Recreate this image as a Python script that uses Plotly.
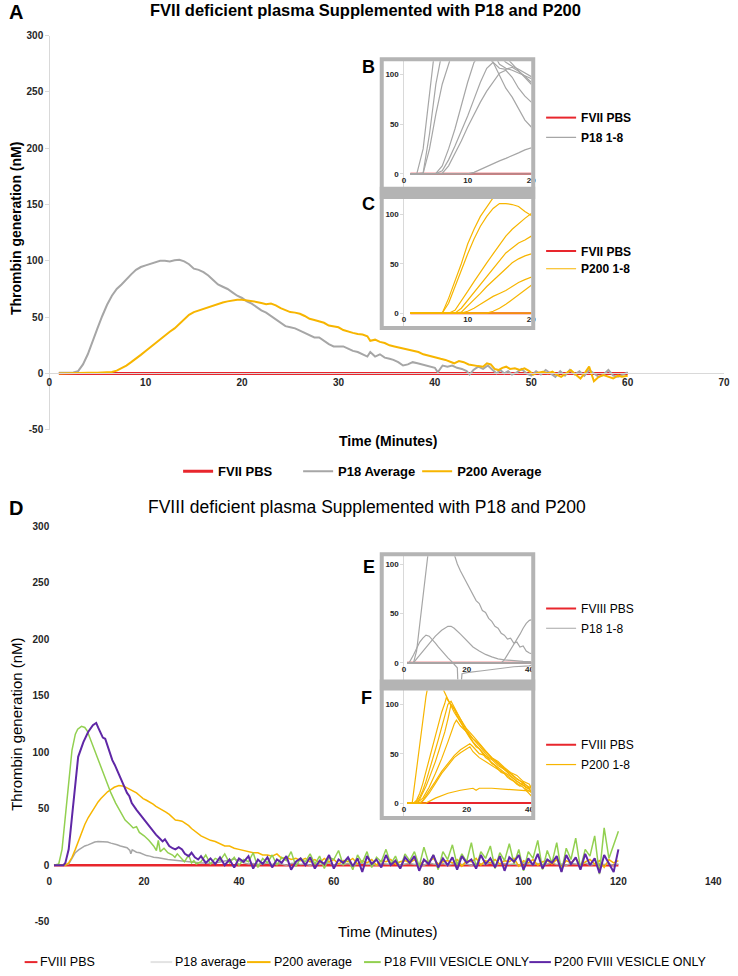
import plotly.graph_objects as go

W, H = 738, 976
FONT = "Liberation Sans, Arial, sans-serif"
RED = "#e8262d"
GRAY = "#a6a6a6"
LIGHTGRAY = "#e3e3e3"
ORANGE = "#f7b500"
GREEN = "#92d050"
PURPLE = "#5f27a6"
FRAME = "#b4b4b4"
AXIS = "#d9d9d9"


def px(x):
    return x / W


def py(y):
    return 1 - y / H

# ---------------- DATA: panel A (FVII deficient plasma) ----------------
t_pbs_a = [1, 60]
v_pbs_a = [0, 0]

t_p18_a = [1, 2, 2.5, 3, 3.5, 4, 4.5, 5, 5.5, 6,
           6.5, 7, 7.5, 8, 8.5, 9, 9.5, 10, 10.5, 11,
           11.5, 12, 12.5, 13, 13.5, 14, 14.5, 15, 15.5, 16,
           16.5, 17, 17.5, 18, 18.5, 19, 19.5, 20, 20.5, 21,
           21.5, 22, 22.5, 23, 23.5, 24, 24.5, 25, 25.5, 26,
           26.5, 27, 27.5, 28, 28.5, 29, 29.5, 30, 30.5, 31,
           31.5, 32, 32.5, 33, 33.3, 33.8, 34.3, 34.8, 35.3, 35.7,
           36.2, 36.7, 37.2, 37.7, 38.2, 38.7, 39.2, 39.6, 40, 40.3,
           40.8, 41.3, 41.8, 42.3, 42.8, 43.3, 43.6, 44, 44.5, 45,
           45.5, 46, 46.4, 46.8, 47.2, 47.6, 48, 48.5, 49, 49.5,
           50, 50.5, 51, 51.5, 52, 52.5, 53, 53.5, 54, 54.5,
           55, 55.5, 56, 56.5, 57, 57.5, 58, 58.5, 59, 59.5,
           60]
v_p18_a = [0.5, 0.5, 0.8, 2, 8, 17, 29, 40, 51, 61,
           69, 75, 79, 84, 88, 92, 94.5, 96, 97.5, 99,
           100, 100, 99.5, 100.5, 101, 99.5, 97, 93, 92, 90,
           87, 83, 79, 77, 75, 72, 69, 67, 64, 62,
           59, 56, 54, 51, 48, 45, 42, 41, 40, 38,
           36, 34, 32, 32, 29, 26, 24, 24, 24, 22,
           20, 19, 17, 15, 19, 15, 17, 14, 13, 12,
           10, 7, 8, 10, 9, 8, 7, 6, 5, 1,
           7, 6, 7, 5, 4, 2, -1, 3, 6, 4,
           7, 3, 0, 3, 0, 2, -1, 1, 4, 0,
           -2, 2, -1, 3, 0, -3, 2, -2, 3, -1,
           2, -2, 3, 0, -3, -1, 3, -2, -3, -1,
           1]

t_p200_a = [1, 2, 3, 4, 5, 6, 6.5, 7, 7.5, 8,
            8.5, 9, 9.5, 10, 10.5, 11, 11.5, 12, 12.5, 13,
            13.5, 14, 14.5, 15, 15.5, 16, 16.5, 17, 17.5, 18,
            18.5, 19, 19.5, 20, 20.5, 21, 21.5, 22, 22.5, 23,
            23.5, 24, 24.5, 25, 25.5, 26, 26.5, 27, 27.5, 28,
            28.5, 29, 29.5, 30, 30.5, 31, 31.5, 32, 32.5, 33,
            33.3, 33.8, 34.3, 34.8, 35.3, 35.8, 36.3, 36.8, 37.3, 37.8,
            38.3, 38.8, 39.2, 39.7, 40.1, 40.6, 41.1, 41.6, 42, 42.5,
            43, 43.5, 44, 44.5, 45, 45.4, 45.8, 46.2, 46.6, 47,
            47.4, 47.8, 48.3, 48.8, 49.3, 49.8, 50.2, 50.6, 51.2, 51.7,
            52.2, 52.6, 53.1, 53.6, 54.1, 54.6, 55.1, 55.6, 56, 56.5,
            57, 57.5, 58, 58.5, 59, 59.4, 60]
v_p200_a = [0, 0.3, 0.5, 0.5, 0.5, 0.6, 1.2, 2.5, 4.5, 7,
            10, 13, 16.5, 20, 23.5, 27, 30.5, 34, 37, 40,
            44, 48, 52, 54.5, 56, 57.5, 59, 60.5, 62, 63,
            64, 65, 65.5, 65.5, 65, 64, 63.5, 62.5, 61.5, 62,
            60.5, 58, 56, 54.5, 54, 53, 51, 48.5, 47.5, 46.5,
            45, 42.5, 41.5, 41, 38.5, 37, 36, 35, 34.5, 33,
            29, 30, 28, 27, 25, 24, 23, 22.5, 21, 20,
            19, 17, 16, 15, 14, 13, 12, 10.5, 9, 11,
            10, 8, 7, 6.5, 6, 9, 8, 4, 3, 5,
            6, 4, 4.5, 3, 4.5, 2, -1, 0.5, 1.5, 0,
            1.5, -1, -3, 0, 3, -1, -4.5, 1, 6, -7,
            -3, -1.5, -3, -4.5, -2, -3, -2]

# insets B (P18 1-8) and C (P200 1-8), minutes 1..21
t_bc = [1, 2, 3, 4, 5, 6, 7, 8, 9, 10, 11, 12, 13, 14, 15, 16, 17, 18, 19, 20, 21]
t_pbs_bc = [1, 21]
v_pbs_bc = [0, 0]
p18_runs_b = [
    [0, 0, 25, 80, 140, 190, 220, 230, 220, 200, 180, 160, 140, 122, 110, 106, 104, 101, 98, 95, 93],
    [0, 0, 1, 40, 90, 135, 170, 190, 195, 190, 175, 160, 145, 132, 124, 117, 110, 104, 97, 90, 86],
    [0, 0, 0.5, 25, 60, 90, 112, 135, 150, 158, 155, 148, 138, 128, 118, 112, 108, 105, 101, 97, 94],
    [0, 0, 0, 0, 0.5, 8, 25, 45, 70, 92, 112, 120, 118, 112, 106, 105, 107, 103, 98, 92, 88],
    [0, 0, 0, 0, 0.3, 3, 14, 28, 43, 58, 75, 92, 106, 112, 99, 86, 77, 66, 54, 47, 42],
    [0, 0, 0, 0, 0, 0.5, 8, 20, 33, 47, 60, 72, 83, 92, 101, 104, 97, 86, 78, 72, 68],
    [0, 0, 0, 0, 0, 0, 0, 0, 0, 0, 1.5, 4.5, 7.5, 10, 13, 15.5, 18, 21, 24, 26, 28],
    [0, 0, 0, 0, 0, 0, 0, 0, 0, 0, 0, 0, 0, 0, 0, 0, 0, 0, 0, 0, 0],
]
p200_runs_c = [
    [0, 0, 0, 0, 0, 0, 15, 32, 50, 70, 85, 98, 108, 118, 128, 137, 145, 152, 158, 163, 167],
    [0, 0, 0, 0, 0, 0, 10, 27, 45, 60, 75, 88, 98, 106, 111, 111, 110, 108, 103, 99, 97],
    [0, 0, 0, 0, 0, 0, 0, 3, 12, 22, 32, 42, 51, 60, 69, 78, 85, 91, 96, 101, 103],
    [0, 0, 0, 0, 0, 0, 0, 0, 5, 13, 21, 30, 38, 46, 54, 61, 66, 71, 74, 78, 80],
    [0, 0, 0, 0, 0, 0, 0, 0, 1, 7, 13, 20, 27, 33, 40, 46, 51, 55, 58, 60, 62],
    [0, 0, 0, 0, 0, 0, 0, 0, 0, 2, 5, 9, 13, 17, 20, 23, 27, 31, 34, 37, 39],
    [0, 0, 0, 0, 0, 0, 0, 0, 0, 0, 0, 0, 0, 2, 5, 9, 14, 19, 24, 29, 33],
    [0, 0, 0, 0, 0, 0, 0, 0, 0, 0, 0, 0, 0, 0, 0, 0, 0, 0, 0, 0, 0],
]

# ---------------- DATA: panel D (FVIII deficient plasma) ----------------
t_pbs_d = [1, 120]
v_pbs_d = [0, 0]

t_tail_d = [32, 33, 34, 35, 36, 37, 38, 39, 40, 41,
            42, 43, 44, 45, 46, 47, 48, 49, 50, 51,
            52, 53, 54, 55, 56, 57, 58, 59, 60, 61,
            62, 63, 64, 65, 66, 67, 68, 69, 70, 71,
            72, 73, 74, 75, 76, 77, 78, 79, 80, 81,
            82, 83, 84, 85, 86, 87, 88, 89, 90, 91,
            92, 93, 94, 95, 96, 97, 98, 99, 100, 101,
            102, 103, 104, 105, 106, 107, 108, 109, 110, 111,
            112, 113, 114, 115, 116, 117, 118, 119, 120]

t_p18_d_head = [1, 3, 4.1, 4.8, 5.5, 6.2, 6.8, 7.5, 8.2, 8.9,
                9.6, 10.3, 10.9, 11.6, 12.3, 13, 13.7, 14.3, 15, 15.7,
                16.4, 17, 17.2, 17.5, 18, 18.4, 19.1, 19.8, 20.5, 21.2,
                22, 23, 24, 25, 26, 27, 28, 29, 30, 31]
v_p18_d_head = [0, 0, 1, 6, 11, 13.5, 15.5, 17, 18, 19.5,
                20.5, 21, 21, 20.5, 20.5, 19.5, 19, 18, 17, 16.5,
                15.5, 13, 10, 13.5, 12.5, 11.5, 11, 9.5, 8.5, 8,
                7, 6.5, 5.5, 5, 4.5, 4, 3.5, 3, 2.5, 2.3]
v_p18_d_tail = [2, 2, 1.5, 2, 3, 4, 5, 5.5, 4, 2,
                1, 1.5, 0.5, 1, 2, 0.5, 1.5, 1, 0, 1.5,
                2, 0.5, 1, 0, 1.5, 0.5, 1, 2, 0, 1,
                0.5, 1.5, 0, 1, 2, 0.5, 1, 0, 1.5, 1,
                0.5, 2, 0, 1, 1.5, 0.5, 1, 0, 2, 1,
                0.5, 1.5, 0, 1, 2, 0.5, 1, 0, 1.5, 1,
                0.5, 2, 0, 1, 1.5, 0.5, 1, 0, 2, 1,
                0.5, 1.5, 0, 1, 2, 0.5, 1, 0, 1.5, 1,
                0.5, 2, 0, 1, 1.5, 0.5, 1, 0, 1]

t_p200_d_head = [1, 3.4, 4.1, 4.8, 5.5, 6.2, 6.8, 7.5, 8.2, 8.9,
                 9.6, 10.3, 10.9, 11.6, 12.3, 13, 13.7, 14.7, 15.7, 16.4,
                 17.1, 17.8, 18.4, 19.1, 19.8, 20.5, 21.2, 21.9, 22.5, 23.2,
                 23.9, 24.6, 25.3, 26, 26.6, 27.3, 28, 28.7, 29.4, 30,
                 30.7, 31.4]
v_p200_d_head = [0, 0, 2, 7, 14, 22, 29, 36, 42, 47,
                 52, 56, 59, 62, 65, 67, 69, 70.5, 70, 68.5,
                 67, 65.5, 64, 61.5, 59, 57.5, 56, 54, 52, 50.5,
                 49, 47, 45, 42.5, 40, 39.5, 39, 37, 35, 32.5,
                 30, 28]
v_p200_d_tail = [26, 24, 22, 21, 19, 17, 17, 15, 14, 13,
                 12, 11, 11, 9, 9, 8, 10, 6, 7, 5,
                 6, 4, 6, 3, 5, 2, 6, 3, 5, 1,
                 4, 3, 6, 1, 4, 2, 5, 0, 4, 3,
                 5, 1, 3, 4, 2, 5, 0, 4, 3, 6,
                 1, 3, 4, 2, 5, -1, 4, 3, 6, 0,
                 4, 2, 5, 1, 4, 3, 6, -1, 4, 2,
                 5, 0, 3, 4, 1, 5, -2, 4, 2, 6,
                 0, 3, 5, 1, 4, -2, 5, 2, 4]

t_ves18_head = [1, 2, 2.7, 3.4, 4.1, 4.8, 5.5, 6, 6.8, 7.5,
                8, 9, 10, 11, 12, 13, 14, 15, 16, 17,
                17.7, 18.4, 19, 20, 21, 22, 22.6, 23, 23.4, 24.2,
                25, 26, 26.5, 27, 28, 28.5, 29.4, 30, 30.5, 31]
v_ves18_head = [0, 1, 14, 43, 78, 102, 116, 120.5, 123, 122,
                119, 108, 97, 87, 76, 64, 55, 47, 40, 36,
                33, 34, 29, 26, 22, 17, 13, 22, 12, 15,
                11, 9, 7, 10, 5, 3, 9, 2, 4, 1]
v_ves18_tail = [3, 9, 1, 6, 4, 10, 2, 7, 0, 5,
                3, 11, -2, 6, 2, 9, 0, 7, 4, 12,
                -1, 6, 3, 10, 1, 8, -3, 7, 5, 13,
                0, 6, -4, 9, 2, 12, -2, 7, 3, 14,
                1, 8, -3, 10, 4, 12, -1, 16, 2, 9,
                -4, 12, 5, 18, 0, 10, 3, 20, -2, 12,
                6, 17, -3, 11, 4, 19, 1, 14, -5, 12,
                6, 22, -4, 13, 2, 20, -6, 15, 5, 24,
                -3, 14, 8, 26, -8, 33, 6, 18, 30]

t_ves200_head = [1, 3, 3.4, 4.1, 4.8, 5.5, 6.1, 7.2, 8.2, 9.2,
                 9.9, 10.3, 10.6, 11.3, 11.8, 12.3, 13.3, 13.8, 14.3, 15.4,
                 16.4, 16.9, 17.4, 18.4, 19.5, 20.5, 21.5, 22.5, 23.2, 23.9,
                 24.4, 25.3, 26, 26.6, 27.3, 28, 28.6, 29.4, 30, 30.7,
                 31.4]
v_ves200_head = [0, 0, 2, 14, 43, 75, 96, 109, 118, 124,
                 126, 122, 119, 113, 112, 105, 93, 89, 84, 73,
                 64, 61, 55, 49, 43, 37, 32, 27, 24, 21,
                 23, 17, 15, 14, 16, 14, 10, 8, 11, 7,
                 5]
v_ves200_tail = [8, 2, 6, 1, 7, 0, 5, -2, 6, 3,
                 8, -3, 5, 1, 7, -2, 5, 2, 8, -4,
                 3, 6, 0, 7, -3, 4, 1, 9, -3, 5,
                 2, 7, -1, 6, -6, 8, 1, 5, -2, 9,
                 0, 4, -3, 7, 2, 8, -5, 5, 1, 9,
                 -2, 6, 0, 7, -4, 8, 2, 5, -3, 9,
                 1, 6, -2, 8, -5, 7, 3, 9, -4, 6,
                 0, 10, -3, 5, 2, 8, -6, 9, 1, 7,
                 -4, 10, 0, 6, -7, 9, 2, -6, 14]

# insets E (P18 1-8) and F (P200 1-8)
t_pbs_ef = [1, 41]
v_pbs_ef = [0, 0]
p18_runs_e = [
    ([1, 3, 4, 5, 6, 7, 8, 9, 10, 12, 14, 16, 17, 18, 19, 20, 21, 22, 23, 24, 25, 26, 27, 28, 29, 30,
      31, 32, 33, 34, 35, 36, 37, 38, 39, 40, 41],
     [0, 0, 12, 40, 70, 98, 120, 140, 150, 150, 135, 110, 100, 93, 87, 80, 74, 68, 63, 60, 53, 51, 45,
      42, 37, 35, 30, 28, 24, 25, 20, 21, 16, 17, 12, 10, 9]),
    ([1, 1.6, 3, 4, 5, 6, 7, 8, 9, 10, 11, 12, 13, 14, 15, 16, 17, 17.3, 18, 18.5, 20, 25, 30, 35, 40, 41],
     [0, 0, 8, 15, 21, 25, 28, 27, 24, 20, 16, 12, 8, 5, 2, -2, -5, -30, -30, -11, -10, -8, -6, -4, -3, -2]),
    ([1, 3, 4, 6, 8, 10, 12, 14, 15, 16, 18, 20, 22, 24, 26, 28, 30, 32, 35, 38, 41],
     [0, 0, 4, 12, 20, 27, 33, 37, 37, 35, 29, 22, 16, 12, 8.5, 6, 4, 3, 2, 1.5, 1]),
    ([1, 31, 32, 33, 34, 35, 36, 37, 38, 39, 40, 41],
     [0, 0, 3, 8, 13, 18, 24, 29, 35, 40, 43, 44]),
    ([1, 41], [0, 0]),
    ([1, 41], [0, 0]),
    ([1, 41], [0, 0]),
    ([1, 41], [0, 0]),
]
p200_runs_f = [
    ([1, 2.6, 3, 4, 5, 6, 7, 8, 9, 10, 11, 12, 12.8, 14, 15, 16, 17, 18, 20, 22, 24, 26, 28, 30, 32, 34,
      36, 38, 40, 41],
     [0, 0, 10, 35, 60, 85, 108, 125, 132, 133, 128, 120, 113, 105, 98, 92, 87, 82, 72, 62, 55, 48, 41,
      36, 31, 27, 22, 18, 14, 20]),
    ([1, 3, 4, 5, 6, 7, 8, 9, 10, 11, 12, 13, 13.5, 14, 15, 16, 17, 18, 19, 20, 21, 22, 23, 24, 25, 26,
      27, 28, 29, 30, 31, 32, 33, 34, 35, 36, 37, 38, 39, 40, 41],
     [0, 0, 3, 10, 20, 32, 45, 58, 70, 82, 92, 101, 107, 104, 100, 95, 88, 82, 76, 71, 66, 62, 57, 55,
      51, 46, 44, 40, 38, 35, 31, 30, 26, 24, 22, 19, 17, 21, 14, 12, 10]),
    ([1, 3.5, 5, 6, 7, 8, 9, 10, 11, 12, 13, 14, 15, 16, 17, 18, 19, 20, 22, 24, 26, 28, 30, 32, 34, 36,
      38, 40, 41],
     [0, 0, 6, 13, 22, 32, 43, 54, 65, 76, 88, 100, 103, 97, 90, 84, 79, 74, 65, 58, 50, 45, 40, 34, 30,
      25, 20, 16, 18]),
    ([1, 4, 5, 6, 7, 8, 9, 10, 11, 12, 13, 14, 15, 16, 17, 18, 19, 20, 22, 24, 26, 28, 30, 32, 34, 36,
      38, 40, 41],
     [0, 0, 4, 10, 17, 25, 33, 42, 52, 62, 72, 85, 100, 96, 90, 85, 80, 75, 68, 60, 53, 46, 42, 36, 31,
      28, 22, 19, 12]),
    ([1, 4, 6, 8, 10, 12, 14, 15, 16, 16.7, 17.5, 18, 20, 22, 24, 26, 28, 30, 32, 34, 36, 38, 40, 41],
     [0, 0, 5, 16, 30, 45, 62, 72, 80, 84, 80, 78, 72, 65, 60, 52, 46, 40, 35, 30, 24, 21, 15, 8]),
    ([1, 5, 6, 8, 10, 12, 14, 16, 18, 20, 21, 22, 23, 24, 26, 28, 30, 32, 34, 36, 38, 40, 41],
     [0, 0, 3, 12, 22, 32, 40, 48, 54, 58, 60, 57, 54, 50, 48, 44, 38, 34, 28, 22, 18, 14, 10]),
    ([1, 5, 6, 8, 10, 12, 14, 16, 18, 20, 21, 22, 24, 26, 28, 30, 32, 34, 36, 38, 40, 41],
     [0, 0, 2, 10, 20, 30, 38, 46, 51, 55, 57, 52, 46, 42, 38, 34, 30, 25, 20, 16, 10, 6]),
    ([1, 7, 10, 14, 18, 20, 22, 23, 24, 28, 32, 36, 40, 41],
     [0, 0, 5, 10, 13, 14, 15, 13, 15, 15, 14, 13, 12, 12]),
]

y_main_ticks = [-50, 0, 50, 100, 150, 200, 250, 300]
y_main_labels = ["-50", "0", "50", "100", "150", "200", "250", "300"]

# series names / colours of panel D (used by traces and by the key under the panel)
d_names = ["FVIII PBS", "P18 average", "P200 average", "P18 FVIII VESICLE ONLY", "P200 FVIII VESICLE ONLY"]
d_key_colors = [RED, LIGHTGRAY, ORANGE, GREEN, PURPLE]

# ---------------- FIGURE ----------------
fig = go.Figure()


def line(x, y, color, width, xa, ya, name, legend=None, show=False, group=None):
    fig.add_trace(go.Scatter(
        x=x, y=y, mode="lines", line=dict(color=color, width=width),
        xaxis=xa, yaxis=ya, name=name, legend=legend or "legend",
        showlegend=show, legendgroup=group, hoverinfo="skip"))


# panel A
line(t_pbs_a, v_pbs_a, RED, 3, "x", "y", "FVII PBS", "legend", True)
line(t_p18_a, v_p18_a, GRAY, 2, "x", "y", "P18 Average", "legend2", True)
line(t_p200_a, v_p200_a, ORANGE, 2, "x", "y", "P200 Average", "legend3", True)
# inset B
line(t_pbs_bc, v_pbs_bc, RED, 2, "x3", "y3", "FVII PBS", "legend4", True)
for i, run in enumerate(p18_runs_b):
    line(t_bc, run, GRAY, 1.2, "x3", "y3", "P18 1-8", "legend5", i == 0, "b")
# inset C
line(t_pbs_bc, v_pbs_bc, RED, 2, "x4", "y4", "FVII PBS", "legend6", True)
for i, run in enumerate(p200_runs_c):
    line(t_bc, run, ORANGE, 1.2, "x4", "y4", "P200 1-8", "legend7", i == 0, "c")
# panel D (key drawn below the panel)
line(t_pbs_d, v_pbs_d, RED, 2.5, "x2", "y2", d_names[0])
line(t_p18_d_head + t_tail_d, v_p18_d_head + v_p18_d_tail, GRAY, 1.5, "x2", "y2", d_names[1])
line(t_p200_d_head + t_tail_d, v_p200_d_head + v_p200_d_tail, ORANGE, 1.5, "x2", "y2", d_names[2])
line(t_ves18_head + t_tail_d, v_ves18_head + v_ves18_tail, GREEN, 1.5, "x2", "y2", d_names[3])
line(t_ves200_head + t_tail_d, v_ves200_head + v_ves200_tail, PURPLE, 2, "x2", "y2", d_names[4])
# inset E
line(t_pbs_ef, v_pbs_ef, RED, 2, "x5", "y5", "FVIII PBS", "legend13", True)
for i, (tt, vv) in enumerate(p18_runs_e):
    line(tt, vv, GRAY, 1.2, "x5", "y5", "P18 1-8", "legend14", i == 0, "e")
# inset F
line(t_pbs_ef, v_pbs_ef, RED, 2, "x6", "y6", "FVIII PBS", "legend15", True)
for i, (tt, vv) in enumerate(p200_runs_f):
    line(tt, vv, ORANGE, 1.2, "x6", "y6", "P200 1-8", "legend16", i == 0, "f")


def xax(d0, d1, rng, pos, tickvals, size, showline, ticklen=0):
    return dict(domain=[px(d0), px(d1)], range=rng, anchor="free", position=py(pos),
                showline=showline, linecolor=AXIS, linewidth=1,
                ticks="outside" if ticklen else "", ticklen=ticklen, tickcolor="rgba(0,0,0,0)",
                tickvals=tickvals, tickfont=dict(family=FONT, size=size, color="#262626", weight="bold"),
                showgrid=False, zeroline=False, fixedrange=True)


def yax(top, bottom, rng, pos, tickvals, size, showline, ticklen, ticktext=None):
    d = dict(domain=[py(bottom), py(top)], range=rng, anchor="free", position=px(pos),
             showline=showline, linecolor=AXIS, linewidth=1,
             ticks="outside" if ticklen else "", ticklen=ticklen, tickcolor=AXIS,
             tickvals=tickvals, tickfont=dict(family=FONT, size=size, color="#262626", weight="bold"),
             showgrid=False, zeroline=False, fixedrange=True)
    if ticktext:
        d["ticktext"] = ticktext
    return d


def lg(xtext, yc, size, bold):
    return dict(x=px(xtext - 42), y=py(yc), xanchor="left", yanchor="middle",
                orientation="v", bgcolor="rgba(0,0,0,0)", borderwidth=0, itemwidth=30,
                font=dict(family=FONT, size=size, color="#000000", weight="bold" if bold else "normal"))


layout = dict(
    width=W, height=H, margin=dict(l=0, r=0, t=0, b=0),
    paper_bgcolor="white", plot_bgcolor="white", showlegend=True,
    xaxis=xax(47, 733, [0, 70], 372, [0, 10, 20, 30, 40, 50, 60, 70], 10, True),
    yaxis=yax(30, 429, [-50, 300], 47, y_main_ticks, 10, True, 4, y_main_labels),
    xaxis2=xax(47, 722, [0, 140], 869, [0, 20, 40, 60, 80, 100, 120, 140], 10, False, 8),
    yaxis2=yax(527, 927, [-50, 300], 47, y_main_ticks, 10, False, 0, y_main_labels),
    xaxis3=xax(387, 537, [-3.2, 20], 170, [0, 10, 20], 8, False),
    yaxis3=yax(56, 183, [-13, 113], 407, [0, 50, 100], 8, True, 3),
    xaxis4=xax(387, 537, [-3.2, 20], 311, [0, 10, 20], 8, False),
    yaxis4=yax(195, 324, [-13, 116], 407, [0, 50, 100], 8, True, 3),
    xaxis5=xax(387, 537, [-6.5, 40.6], 665, [0, 20, 40], 8, False),
    yaxis5=yax(557, 682, [-17, 108], 407, [0, 50, 100], 8, True, 3),
    xaxis6=xax(387, 537, [-6.5, 40.6], 807, [0, 20, 40], 8, False),
    yaxis6=yax(693, 820, [-13, 114], 407, [0, 50, 100], 8, True, 3),
    legend=lg(220, 471, 13, True),
    legend2=lg(342, 471, 13, True),
    legend3=lg(463, 471, 13, True),
    legend4=lg(589, 113, 12, True),
    legend5=lg(589, 133, 12, True),
    legend6=lg(589, 248, 12, True),
    legend7=lg(589, 266, 12, True),
    legend13=lg(589, 610, 12, False),
    legend14=lg(589, 630, 12, False),
    legend15=lg(589, 748, 12, False),
    legend16=lg(589, 768, 12, False),
)


def ann(text, x, y, size, bold=True, angle=0, xanchor="center"):
    return dict(text=text, x=px(x), y=py(y), xref="paper", yref="paper", showarrow=False,
                xanchor=xanchor, yanchor="middle", textangle=angle,
                font=dict(family=FONT, size=size, color="#000000", weight="bold" if bold else "normal"))


annotations = [
    ann("A", 13, 6, 20),
    ann("FVII deficient plasma Supplemented with P18 and P200", 368, 4, 16.5),
    ann("Thrombin generation (nM)", 13, 225, 14, True, -90),
    ann("Time (Minutes)", 392, 440, 14),
    ann("B", 372, 62, 18),
    ann("C", 372, 200, 18),
    ann("D", 13, 508, 20),
    ann("FVIII deficient plasma Supplemented with P18 and P200", 370, 507, 17.5, False),
    ann("Thrombin generation (nM)", 13, 727, 15, False, -90),
    ann("Time (Minutes)", 391, 937, 15, False),
    ann("E", 372, 568, 18),
    ann("F", 369, 701, 18),
]


def rect(x0, y0, x1, y1, fill=None, lw=4):
    return dict(type="rect", xref="paper", yref="paper", x0=px(x0), x1=px(x1), y0=py(y1), y1=py(y0),
                line=dict(color=FRAME, width=lw if fill is None else 0),
                fillcolor=fill if fill else "rgba(0,0,0,0)", layer="above")


shapes = [
    rect(385, 54, 539, 326),
    rect(383, 183, 541, 195.5, FRAME),
    rect(385, 555, 539, 822),
    rect(383, 682, 541, 693, FRAME),
]

# key of panel D: swatch start, swatch end and text start (page pixels) per entry
d_key_x = [(22, 35, 36), (150, 172, 173), (248, 272, 273), (367, 384, 385), (535, 557, 558)]
KEY_Y = 968
for name, col, (s0, s1, tx) in zip(d_names, d_key_colors, d_key_x):
    shapes.append(dict(type="line", xref="paper", yref="paper", x0=px(s0), x1=px(s1),
                       y0=py(KEY_Y), y1=py(KEY_Y), line=dict(color=col, width=2)))
    annotations.append(ann(name, tx, KEY_Y, 12.5, False, 0, "left"))

layout["annotations"] = annotations
layout["shapes"] = shapes

fig.update_layout(**layout)
fig.write_html("out.html", config=dict(displayModeBar=False),
               post_script="document.body.style.margin='0px';document.body.style.overflow='hidden';")
